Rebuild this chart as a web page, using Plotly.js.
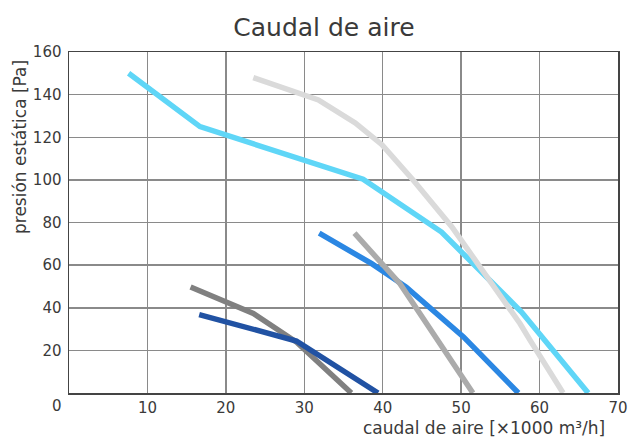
<!DOCTYPE html>
<html>
<head>
<meta charset="utf-8">
<script src="https://cdn.plot.ly/plotly-3.0.1.min.js"></script>
<style>html,body{margin:0;padding:0;background:#fff;}#chart{width:629px;height:439px;}</style>
</head>
<body>
<div id="chart"></div>
<script>
// Curves: airflow [x1000 m3/h] vs static pressure [Pa]
var cyanX = [7.6, 16.7, 37.5, 47.5, 57.7, 66.2];
var cyanY = [150, 125, 100.3, 75.5, 38, 0];
var lightGrayX = [23.5, 31.8, 36.5, 39.9, 43.9, 48.8, 54.5, 57.5, 58.8, 63.0];
var lightGrayY = [148, 137.5, 126.7, 116.5, 99.8, 78, 48.2, 32.6, 24.7, 0];
var blueX = [31.9, 38.6, 43.0, 50.3, 57.3];
var blueY = [75, 60.7, 49.7, 26.3, 0];
var midGrayX = [36.4, 42.2, 51.5];
var midGrayY = [75, 51.3, 0];
var darkGrayX = [15.5, 23.5, 29.0, 36.0];
var darkGrayY = [49.7, 37.3, 23.9, 0];
var darkBlueX = [16.6, 29.0, 39.4];
var darkBlueY = [36.8, 24.4, 0];

var xTicks = [10, 20, 30, 40, 50, 60, 70];
var yTicks = [20, 40, 60, 80, 100, 120, 140, 160];

var titleText = 'Caudal de aire';
var xTitle = 'caudal de aire [×1000 m³/h]';
var yTitle = 'presión estática [Pa]';

var font = '"DejaVu Sans", sans-serif';
var txt = '#3a3a3a';
function line(x, y, color) {
  return {x: x, y: y, mode: 'lines', type: 'scatter', hoverinfo: 'skip',
    line: {color: color, width: 5.5}, showlegend: false};
}
var data = [
  line(cyanX, cyanY, '#5fd6f7'),
  line(lightGrayX, lightGrayY, '#dadada'),
  line(blueX, blueY, '#2b87e3'),
  line(midGrayX, midGrayY, '#ababab'),
  line(darkGrayX, darkGrayY, '#808080'),
  line(darkBlueX, darkBlueY, '#2152a3')
];
var W = 549, H = 341, L = 69, B = 393;
var layout = {
  width: 629, height: 439,
  margin: {l: 69, r: 11, t: 52, b: 46},
  paper_bgcolor: '#fff', plot_bgcolor: '#fff',
  font: {family: font, color: txt, size: 15},
  title: {text: titleText, x: 0.515, xanchor: 'center', y: 1 - 27 / 439, yanchor: 'middle',
    font: {family: font, size: 25, color: txt}},
  xaxis: {range: [0, 70], tickvals: xTicks, ticktext: xTicks.map(String),
    showgrid: true, gridcolor: '#8a8a8a', gridwidth: 1.5,
    showline: true, linecolor: '#444', linewidth: 1.5, mirror: true,
    ticks: '', zeroline: false, tickfont: {size: 15, color: txt}, fixedrange: true},
  yaxis: {range: [0, 160], tickvals: yTicks, ticktext: yTicks.map(String),
    showgrid: true, gridcolor: '#8a8a8a', gridwidth: 1.5,
    showline: true, linecolor: '#444', linewidth: 1.5, mirror: true,
    ticks: 'outside', ticklen: 3, tickcolor: 'rgba(0,0,0,0)',
    zeroline: false, tickfont: {size: 15, color: txt}, fixedrange: true},
  annotations: [
    {text: '0', xref: 'paper', yref: 'paper', x: (57 - L) / W, y: -(406 - B) / H,
      xanchor: 'center', yanchor: 'middle', showarrow: false, font: {size: 15, color: txt}},
    {text: xTitle, xref: 'paper', yref: 'paper', x: (607 - L) / W, y: -(428 - B) / H,
      xanchor: 'right', yanchor: 'middle', showarrow: false, font: {size: 17, color: txt}},
    {text: yTitle, xref: 'paper', yref: 'paper', x: (20 - L) / W, y: (B - 147) / H,
      xanchor: 'center', yanchor: 'middle', textangle: -90, showarrow: false, font: {size: 17, color: txt}}
  ]
};
Plotly.newPlot('chart', data, layout, {displayModeBar: false, staticPlot: true});
</script>
</body>
</html>
